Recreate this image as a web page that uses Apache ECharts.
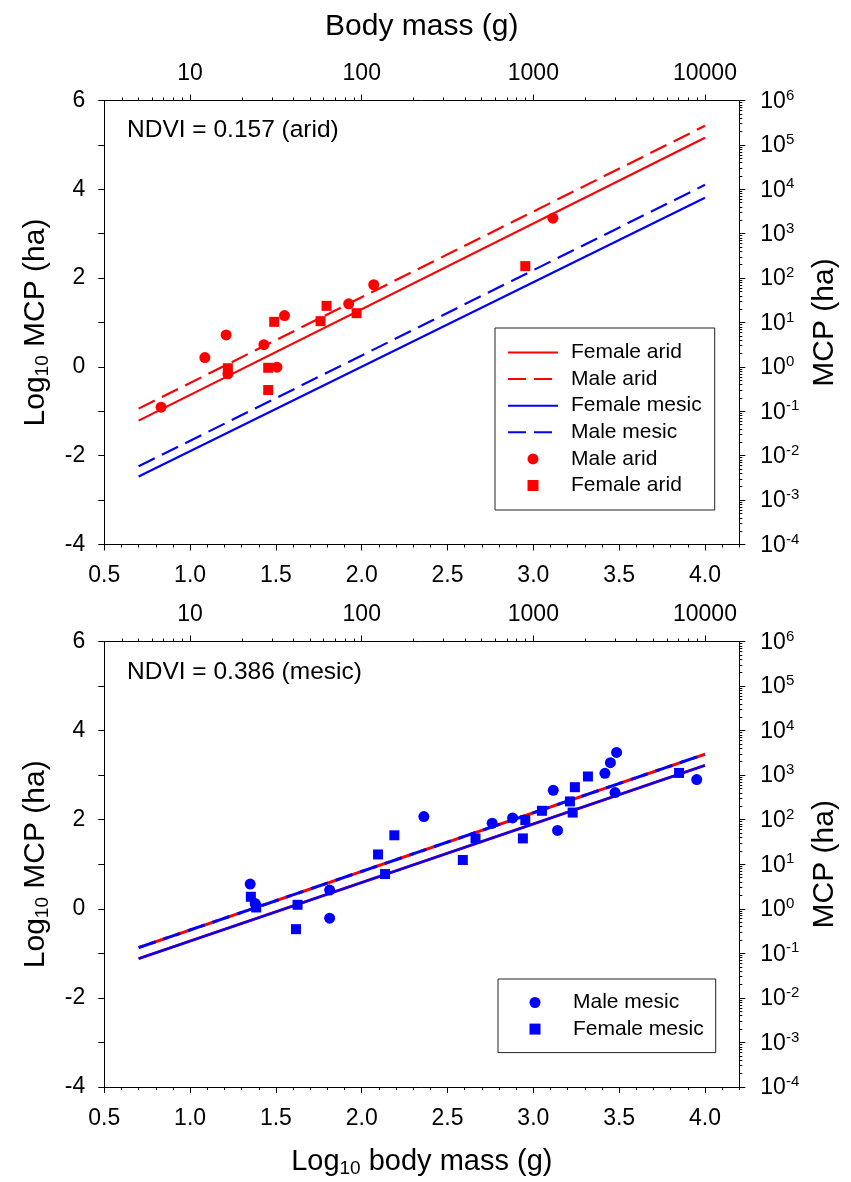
<!DOCTYPE html>
<html><head><meta charset="utf-8">
<script src="https://cdn.jsdelivr.net/npm/echarts@6/dist/echarts.min.js"></script>
<style>html,body{margin:0;padding:0;background:#fff}#c{width:851px;height:1182px}</style>
</head><body><div id="c"></div>
<script>
// ---- data (log10 body mass in g, log10 MCP in ha) ----
const lineX = [0.7, 4.0];
const aridFemaleLine = [-1.21, 5.16];
const aridMaleLine = [-0.94, 5.43];
const mesicFemaleLine = [-2.47, 3.81];
const mesicMaleLine = [-2.24, 4.10];
const mesicPanelMaleLine = [-0.87, 3.47];
const mesicPanelFemaleLine = [-1.12, 3.22];

const aridMaleX = [0.831, 1.086, 1.210, 1.220, 1.430, 1.506, 1.550, 1.924, 2.070, 3.114];
const aridMaleY = [-0.907, 0.21, 0.72, -0.155, 0.50, -0.006, 1.157, 1.42, 1.85, 3.35];
const aridFemaleX = [1.220, 1.490, 1.455, 1.455, 1.760, 1.795, 1.970, 2.953];
const aridFemaleY = [-0.03, 1.015, -0.02, -0.52, 1.03, 1.375, 1.21, 2.27];
const mesicMaleX = [1.350, 1.379, 1.813, 1.813, 2.362, 2.760, 2.879, 3.116, 3.141, 3.417, 3.449, 3.485, 3.476, 3.952];
const mesicMaleY = [0.556, 0.12, 0.42, -0.21, 2.07, 1.92, 2.04, 2.66, 1.76, 3.04, 3.28, 3.51, 2.61, 2.90];
const mesicFemaleX = [1.354, 1.385, 1.626, 1.617, 2.095, 2.190, 2.136, 2.589, 2.663, 2.939, 2.953, 3.050, 3.213, 3.229, 3.242, 3.318, 3.849];
const mesicFemaleY = [0.27, 0.03, 0.09, -0.457, 1.22, 1.65, 0.78, 1.095, 1.58, 1.58, 1.99, 2.20, 2.41, 2.16, 2.73, 2.97, 3.05];

// ---- tick labels ----
const xMajorTicks = [0.5, 1.0, 1.5, 2.0, 2.5, 3.0, 3.5, 4.0];
const massMajorTicks = [1, 2, 3, 4];
const massTickLabels = ['10', '100', '1000', '10000'];
const yTicks = [-4, -3, -2, -1, 0, 1, 2, 3, 4, 5, 6];
const yLabelTicks = [-4, -2, 0, 2, 4, 6];
const panelTitles = ['NDVI = 0.157 (arid)', 'NDVI = 0.386 (mesic)'];

const FONT = "'Liberation Sans', Arial, sans-serif";
const TICK_FS = 23, TITLE_FS = 30, SUB_FS = 19;
const X_MIN = 0.5, X_MAX = 4.2, Y_MIN = -4, Y_MAX = 6;

const xMinorTicks = [];
for (let i = 5; i <= 42; i++) xMinorTicks.push(i / 10);
const massMinorTicks = [];
for (let d = 0; d <= 4; d++) for (let m = 2; m <= 9; m++) {
  const v = d + Math.log10(m);
  if (v >= X_MIN && v <= X_MAX) massMinorTicks.push(v);
}
const yMinorLog = [];
for (let d = -4; d <= 5; d++) for (let m = 2; m <= 9; m++) yMinorLog.push(d + Math.log10(m));

const black = { color: '#000', width: 1 };
const grids = [
  { left: 104.3, top: 100.5, width: 635, height: 444 },
  { left: 104.3, top: 641.5, width: 635, height: 445.5 }
];
const subRich = { s: { fontSize: SUB_FS, verticalAlign: 'top', padding: [14, 0, 0, 0], fontFamily: FONT, color: '#000' } };

const xAxes = [], yAxes = [];
function addAxes(gi) {
  const base = { gridIndex: gi, type: 'value', min: X_MIN, max: X_MAX, splitLine: { show: false } };
  xAxes.push(Object.assign({}, base, {
    position: 'bottom',
    axisLine: { show: true, onZero: false, lineStyle: black },
    axisTick: { show: true, customValues: xMajorTicks, length: 6, lineStyle: black },
    axisLabel: { customValues: xMajorTicks, formatter: v => v.toFixed(1), margin: 20, fontSize: TICK_FS, color: '#000', fontFamily: FONT },
    name: gi === 1 ? 'Log{s|10} body mass (g)' : '',
    nameLocation: 'middle', nameGap: 58,
    nameTextStyle: { fontSize: 29, color: '#000', fontFamily: FONT, rich: subRich }
  }));
  xAxes.push(Object.assign({}, base, {
    position: 'bottom',
    axisLine: { show: false, onZero: false },
    axisTick: { show: true, customValues: xMinorTicks, length: 3, lineStyle: black },
    axisLabel: { show: false }
  }));
  xAxes.push(Object.assign({}, base, {
    position: 'top',
    axisLine: { show: true, onZero: false, lineStyle: black },
    axisTick: { show: true, customValues: massMajorTicks, length: 6, lineStyle: black },
    axisLabel: { customValues: massMajorTicks, formatter: v => massTickLabels[massMajorTicks.indexOf(Math.round(v))], margin: 15, fontSize: TICK_FS, color: '#000', fontFamily: FONT },
    name: gi === 0 ? 'Body mass (g)' : '',
    nameLocation: 'middle', nameGap: 59,
    nameTextStyle: { fontSize: TITLE_FS, color: '#000', fontFamily: FONT }
  }));
  xAxes.push(Object.assign({}, base, {
    position: 'top',
    axisLine: { show: false, onZero: false },
    axisTick: { show: true, customValues: massMinorTicks, length: 3, lineStyle: black },
    axisLabel: { show: false }
  }));
  const ybase = { gridIndex: gi, type: 'value', min: Y_MIN, max: Y_MAX, splitLine: { show: false } };
  yAxes.push(Object.assign({}, ybase, {
    position: 'left',
    axisLine: { show: true, onZero: false, lineStyle: black },
    axisTick: { show: true, customValues: yTicks, length: 6, lineStyle: black },
    axisLabel: { customValues: yLabelTicks, margin: 19, fontSize: TICK_FS, color: '#000', fontFamily: FONT },
    name: 'Log{s|10} MCP (ha)', nameLocation: 'middle', nameGap: 52,
    nameTextStyle: { fontSize: TITLE_FS, color: '#000', fontFamily: FONT, rich: subRich }
  }));
  yAxes.push(Object.assign({}, ybase, {
    position: 'right',
    axisLine: { show: true, onZero: false, lineStyle: black },
    axisTick: { show: true, customValues: yTicks, length: 6, lineStyle: black },
    axisLabel: {
      customValues: yTicks, margin: 21, color: '#000', fontFamily: FONT, fontSize: TICK_FS,
      formatter: v => '{b|10}{s|' + Math.round(v) + '}',
      rich: {
        b: { fontSize: TICK_FS, fontFamily: FONT, color: '#000', verticalAlign: 'bottom' },
        s: { fontSize: 15, fontFamily: FONT, color: '#000', verticalAlign: 'bottom', padding: [0, 0, 10, 0] }
      }
    },
    name: 'MCP (ha)', nameLocation: 'middle', nameGap: 69,
    nameTextStyle: { fontSize: TITLE_FS, color: '#000', fontFamily: FONT }
  }));
  yAxes.push(Object.assign({}, ybase, {
    position: 'right',
    axisLine: { show: false, onZero: false },
    axisTick: { show: true, customValues: yMinorLog, length: 3, lineStyle: black },
    axisLabel: { show: false }
  }));
}
addAxes(0);
addAxes(1);

function pairs(xs, ys) { return xs.map((x, i) => [x, ys[i]]); }
function lineSeries(name, gi, ys, color, type, width, z, extra) {
  return {
    name, type: 'line', xAxisIndex: gi * 4, yAxisIndex: gi * 3,
    data: pairs(lineX, ys), symbol: 'none', silent: true, z,
    lineStyle: Object.assign({ color, width, type }, extra || {}),
    itemStyle: { color }
  };
}
function scatterSeries(name, gi, xs, ys, color, symbol, size) {
  return {
    name, type: 'scatter', xAxisIndex: gi * 4, yAxisIndex: gi * 3,
    data: pairs(xs, ys), symbol, symbolSize: size, z: 5,
    itemStyle: { color, opacity: 1 }
  };
}

const RED = '#ff0000', BLUE = '#0000ff';
const series = [
  lineSeries('Female arid', 0, aridFemaleLine, RED, 'solid', 2.2, 2),
  lineSeries('Male arid', 0, aridMaleLine, RED, [18, 8], 2.2, 2),
  lineSeries('Female mesic', 0, mesicFemaleLine, BLUE, 'solid', 2.2, 2),
  lineSeries('Male mesic', 0, mesicMaleLine, BLUE, [18, 8], 2.2, 2),
  scatterSeries('Male arid pts', 0, aridMaleX, aridMaleY, RED, 'circle', 11),
  scatterSeries('Female arid pts', 0, aridFemaleX, aridFemaleY, RED, 'rect', 10),

  lineSeries('m-Male arid', 1, mesicPanelMaleLine, RED, [18, 8], 3, 2, { dashOffset: 13 }),
  lineSeries('m-Male mesic', 1, mesicPanelMaleLine, BLUE, [18, 8], 3, 3),
  lineSeries('m-Female arid', 1, mesicPanelFemaleLine, RED, 'solid', 3, 2),
  lineSeries('m-Female mesic', 1, mesicPanelFemaleLine, BLUE, 'solid', 2.4, 3),
  scatterSeries('Male mesic pts', 1, mesicMaleX, mesicMaleY, BLUE, 'circle', 11),
  scatterSeries('Female mesic pts', 1, mesicFemaleX, mesicFemaleY, BLUE, 'rect', 10)
];

const SQUARE = 'path://M0,0L10,0L10,10L0,10Z';
const lineItem = n => ({ name: n, itemStyle: { opacity: 0, color: 'rgba(0,0,0,0)' } });
const displayName = n => n.replace(' pts', '');
const legendBase = {
  orient: 'vertical', itemWidth: 50, itemHeight: 11, itemGap: 5.6,
  borderColor: '#222', borderWidth: 1, backgroundColor: '#fff',
  selectedMode: false, formatter: displayName, symbolKeepAspect: true,
  textStyle: { fontSize: 21, color: '#000', fontFamily: FONT, lineHeight: 21, padding: [0, 0, 0, 8] }
};

const option = {
  animation: false,
  backgroundColor: '#fff',
  textStyle: { fontFamily: FONT },
  title: panelTitles.map((t, i) => ({
    text: t, left: 127, top: i === 0 ? 118 : 660, padding: 0,
    textStyle: { fontSize: 24.5, fontWeight: 'normal', color: '#000', fontFamily: FONT }
  })),
  grid: grids,
  xAxis: xAxes,
  yAxis: yAxes,
  legend: [
    Object.assign({}, legendBase, {
      left: 495, top: 328, padding: [14, 13, 14, 12],
      data: [lineItem('Female arid'), lineItem('Male arid'), lineItem('Female mesic'), lineItem('Male mesic'),
             { name: 'Male arid pts', icon: 'circle' }, { name: 'Female arid pts', icon: SQUARE }]
    }),
    Object.assign({}, legendBase, {
      left: 498, top: 979, padding: [13, 12, 13, 31.5],
      data: [{ name: 'Male mesic pts', icon: 'circle' }, { name: 'Female mesic pts', icon: SQUARE }]
    })
  ],
  series
};

const chart = echarts.init(document.getElementById('c'), null, { renderer: 'canvas' });
chart.setOption(option);
</script>
</body></html>
